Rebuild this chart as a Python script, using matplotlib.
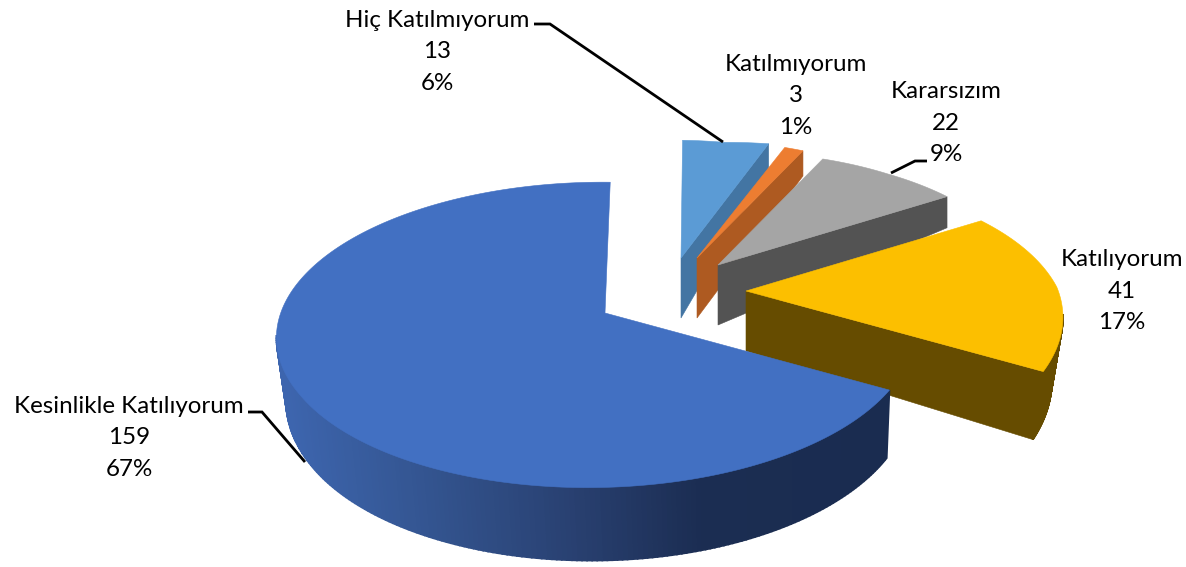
#3D exploded pie chart, drawn by hand because matplotlib has no 3D pie
import numpy as np
import matplotlib.pyplot as plt
from matplotlib.colors import LinearSegmentedColormap

names = ["Hiç Katılmıyorum", "Katılmıyorum", "Kararsızım", "Katılıyorum", "Kesinlikle Katılıyorum"]
counts = [13, 3, 22, 41, 159]
percents = [6, 1, 9, 17, 67]

top_colors = ["#5B9BD5", "#ED7D31", "#A5A5A5", "#FCBF00", "#4270C2"]
side_colors = ["#4375A3", "#AE5A21", "#535353", "#664C00", "#1A2C50"]

# where each slice's point ends up after the explosion, and its size along the slice
origins = [(681, 258), (697, 258), (718, 265), (746, 291), (605, 313)]
scales = [(0.90, 0.90, 0.93), (0.90, 0.90, 0.90), (0.89, 0.91, 0.94), (0.965, 1.02, 1.045), (1, 0.985, 1)]
skews = [2, 6, 6, 6, 6]
shrinks = [0, 0, 0, 0.035, 0.02]
wall_shift = [0, 0, 0, 0, 3]

label_pos = [(437, 52), (796, 96), (946, 123), (1122, 291), (129, 438)]
leaders = [[(534, 24), (550, 24), (723, 142)],
           [(927, 161), (915, 161), (891, 173)],
           [(248, 412), (262, 412), (305, 462)]]

A, B = 316.5, 150
K, M = 0.147, 0.035

def project(theta, origin, scale, skew):
    u = np.sin(theta)
    v = np.cos(theta)
    w = 1 + K * v + M * u
    return origin[0] + scale * (A * u + skew * v) / w, origin[1] - scale * B * v / w

def depth(v):
    return np.interp(v, [-1, -0.49, 0, 0.54, 0.89, 1], [73, 68, 60, 31, 26, 22])

def drawSlice(ax, i, start, end, gradient=None):
    origin = origins[i]
    side = side_colors[i]
    thetas = np.linspace(start, end, 300)
    r = np.interp(np.linspace(0, 1, 300), [0, 0.5, 1], scales[i])
    x, y = project(thetas, origin, r, skews[i])
    bx = x - (x - origin[0]) * shrinks[i] + wall_shift[i]
    by = y + depth(np.cos(thetas))

    # outer wall, only the part turned towards the viewer
    for n in range(299):
        if np.cos(thetas[n]) > -0.15:
            continue
        color = side if gradient is None else gradient(np.clip((x[n] - 285) / 605, 0, 1))
        ax.fill([x[n], x[n + 1], bx[n + 1], bx[n]], [y[n], y[n + 1], by[n + 1], by[n]],
                color=color, lw=1.2)

    # cut face on the clockwise edge, hidden on the big slice
    if gradient is None:
        ax.fill([origin[0], x[-1], bx[-1], origin[0]],
                [origin[1], y[-1], by[-1], origin[1] + depth(0)], color=side, lw=0.4)

    ax.fill(np.r_[origin[0], x], np.r_[origin[1], y], color=top_colors[i], lw=0.4)

def main():
    fig = plt.figure(figsize=(11.86, 5.67), dpi=100)
    ax = fig.add_axes([0, 0, 1, 1])
    ax.set_xlim(0, 1186)
    ax.set_ylim(567, 0)
    ax.axis("off")

    wall = LinearSegmentedColormap.from_list("wall", [(0, "#3D65AE"), (0.24, "#33548F"),
                                                      (0.49, "#283F6F"), (0.69, "#1B2D52"),
                                                      (1, "#1A2C50")])

    edges = np.cumsum([0] + counts) / sum(counts) * 2 * np.pi
    for i in range(len(counts)):
        drawSlice(ax, i, edges[i], edges[i + 1], wall if i == 4 else None)

    for line in leaders:
        ax.plot([p[0] for p in line], [p[1] for p in line], color="black", lw=2.0,
                solid_joinstyle="miter", solid_capstyle="butt")

    for i in range(len(names)):
        ax.text(label_pos[i][0], label_pos[i][1], f"{names[i]}\n{counts[i]}\n{percents[i]}%",
                ha="center", va="center", family="Lato", fontsize=17.4, linespacing=1.62, color="black")

    fig.savefig("out.png", dpi=100)

if __name__ == '__main__':
    main()
